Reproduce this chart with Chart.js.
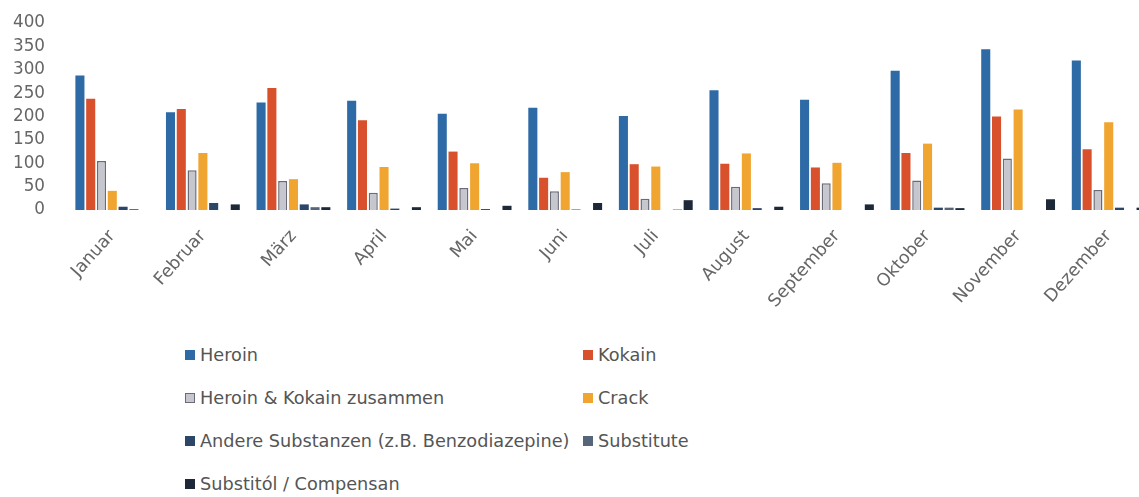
<!DOCTYPE html>
<html>
<head>
<meta charset="utf-8">
<script src="https://cdn.jsdelivr.net/npm/chart.js@4/dist/chart.umd.min.js"></script>
<style>
  html, body { margin: 0; padding: 0; background: #fff; overflow: hidden; width: 1139px; height: 497px; }
  #wrap { position: absolute; left: 0; top: -9px; width: 1160px; height: 339px; }
  #legend {
    position: absolute; left: 185px; top: 333px;
    display: grid; grid-template-columns: 398px auto; grid-auto-rows: 43px;
    font-family: "DejaVu Sans", sans-serif; font-size: 17.7px; color: #555;
  }
  .item { display: flex; align-items: center; white-space: nowrap; }
  .box { width: 10px; height: 10px; margin-right: 5px; box-sizing: border-box; }
</style>
</head>
<body>
<div id="wrap"><canvas id="c"></canvas></div>
<div id="legend"></div>
<script>
const months = ["Januar","Februar","März","April","Mai","Juni","Juli","August","September","Oktober","November","Dezember"];
const heroin       = [288, 209, 230, 234, 206, 219, 201, 256, 236, 298, 344, 320];
const kokain       = [238, 216, 261, 192, 125,  69,  98,  99,  91, 122, 200, 130];
const heroinKokain = [105,  85,  62,  37,  47,  40,  24,  50,  57,  63, 110,  43];
const crack        = [ 41, 122,  66,  92, 100,  81,  93, 121, 101, 142, 215, 188];
const andere       = [  7,  15,  12,   3,   2,   1,   0,   4,   0,   5,   0,   5];
const substitute   = [  2,   0,   6,   0,   0,   0,   1,   0,   0,   5,   0,   0];
const substitol    = [  0,  12,   6,   6,   9,  15,  21,   7,  12,   4,  23,   5];
const yTicks = [0, 50, 100, 150, 200, 250, 300, 350, 400];

const seriesNames = ["Heroin", "Kokain", "Heroin & Kokain zusammen", "Crack",
  "Andere Substanzen (z.B. Benzodiazepine)", "Substitute", "Substitól / Compensan"];
const seriesData = [heroin, kokain, heroinKokain, crack, andere, substitute, substitol];
const fills   = ["#2d6aa6", "#d9502c", "#c6c6ce", "#f0a530", "#2c4668", "#56657a", "#1d2838"];
const borders = ["#2d6aa6", "#d9502c", "#6b6b78", "#f0a530", "#2c4668", "#56657a", "#1d2838"];

const datasets = seriesNames.map((name, i) => ({
  label: name,
  data: seriesData[i],
  backgroundColor: fills[i],
  borderColor: borders[i],
  borderWidth: i === 2 ? 1.5 : 0,
  categoryPercentage: 0.834,
  barPercentage: 0.84
}));

const yFont = { family: "'DejaVu Sans', sans-serif", size: 16.8 };
const xFont = { family: "'DejaVu Sans', sans-serif", size: 17.5 };

const chart = new Chart(document.getElementById('c'), {
  type: 'bar',
  data: { labels: months, datasets },
  options: {
    responsive: true,
    maintainAspectRatio: false,
    animation: false,
    layout: { padding: { top: 11, right: 6, left: 0, bottom: 0 } },
    plugins: { legend: { display: false }, tooltip: { enabled: false } },
    scales: {
      x: {
        grid: { display: false, drawTicks: false },
        border: { display: false },
        ticks: { color: '#666', font: xFont, minRotation: 48, maxRotation: 48, padding: 16, autoSkip: false },
        afterFit: (s) => { s.height = 120; }
      },
      y: {
        min: 0, max: 400,
        grid: { display: false, drawTicks: false },
        border: { display: false },
        afterBuildTicks: (s) => { s.ticks = yTicks.map(v => ({ value: v })); },
        ticks: { color: '#666', font: yFont, padding: 22, autoSkip: false },
        afterFit: (s) => { s.width = 67; }
      }
    }
  }
});

const legend = document.getElementById('legend');
chart.data.datasets.forEach(ds => {
  const item = document.createElement('div');
  item.className = 'item';
  const box = document.createElement('span');
  box.className = 'box';
  box.style.background = ds.backgroundColor;
  if (ds.borderWidth) box.style.border = '1px solid ' + ds.borderColor;
  const txt = document.createElement('span');
  txt.textContent = ds.label;
  item.appendChild(box);
  item.appendChild(txt);
  legend.appendChild(item);
});
</script>
</body>
</html>
